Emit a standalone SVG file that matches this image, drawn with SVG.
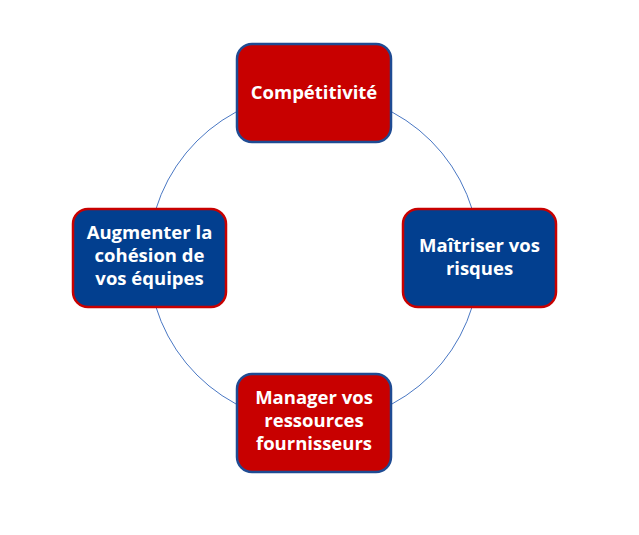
<svg xmlns="http://www.w3.org/2000/svg" width="639" height="535" viewBox="0 0 639 535">
<style>
.red{fill:#C80000;stroke:#1F4B93;stroke-width:2.5}
.blue{fill:#023F8F;stroke:#C80000;stroke-width:2.5}
.t{fill:#fff;font-family:"Open Sans","Liberation Sans",sans-serif;font-weight:bold;font-size:18.5px;text-anchor:middle}
</style>
<rect width="639" height="535" fill="#fff"/>
<g id="connectors">
<circle cx="314" cy="258" r="165.5" fill="none" stroke="#4A78C4" stroke-width="1"/>
</g>
<g id="competitivite">
<rect class="red" x="237" y="44" width="154" height="98" rx="15"/>
<text class="t" x="314" y="99">Compétitivité</text>
</g>
<g id="risques">
<rect class="blue" x="403" y="209" width="153" height="98" rx="15"/>
<text class="t" x="479.5" y="252">Maîtriser vos</text>
<text class="t" x="479.5" y="275">risques</text>
</g>
<g id="fournisseurs">
<rect class="red" x="237" y="374" width="154" height="98" rx="15"/>
<text class="t" x="314" y="404">Manager vos</text>
<text class="t" x="314" y="427">ressources</text>
<text class="t" x="314" y="450">fournisseurs</text>
</g>
<g id="cohesion">
<rect class="blue" x="73" y="209" width="153" height="98" rx="15"/>
<text class="t" x="149.5" y="239">Augmenter la</text>
<text class="t" x="149.5" y="262">cohésion de</text>
<text class="t" x="149.5" y="285">vos équipes</text>
</g>
</svg>
